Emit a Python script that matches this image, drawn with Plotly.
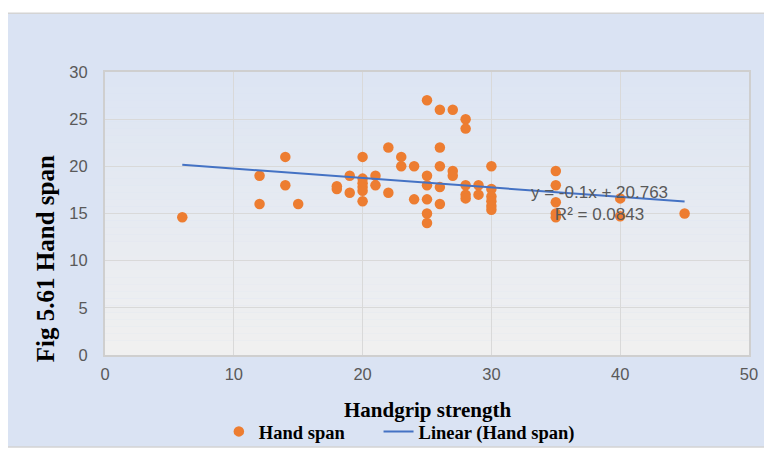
"""Hand span vs handgrip strength scatter with linear trendline."""

import numpy as np
import plotly.graph_objects as go

# handgrip strength (x) and hand span (y)
grip = [
    6, 12, 12, 14, 14, 15, 18, 18, 19, 19,
    20, 20, 20, 20, 20, 20, 21, 21, 22, 22,
    23, 23, 24, 24, 25, 25, 25, 25, 25, 25,
    26, 26, 26, 26, 26, 27, 27, 27, 28, 28,
    28, 28, 28, 29, 29, 30, 30, 30, 30, 30,
    30, 35, 35, 35, 35, 35, 40, 40, 45,
]
span = [
    14.6, 19.0, 16.0, 21.0, 18.0, 16.0, 17.9, 17.6, 19.0, 17.2,
    21.0, 18.7, 18.2, 17.8, 17.4, 16.3, 19.0, 18.0, 22.0, 17.2,
    21.0, 20.0, 20.0, 16.5, 27.0, 19.0, 18.0, 16.5, 15.0, 14.0,
    26.0, 22.0, 20.0, 17.8, 16.0, 26.0, 19.5, 19.0, 25.0, 24.0,
    18.0, 17.0, 16.6, 18.0, 17.0, 20.0, 17.6, 16.8, 16.3, 15.8,
    15.4, 19.5, 18.0, 16.2, 15.0, 14.6, 16.6, 14.7, 15.0,
]

# trendline as printed on the chart
trend_slope = -0.1
trend_intercept = 20.763
trend_r2 = 0.0843

x_ticks = [0, 10, 20, 30, 40, 50]
y_ticks = [0, 5, 10, 15, 20, 25, 30]

ORANGE = "#ED7D31"
BLUE = "#4472C4"
GRID = "#D9D9D9"
TICK_GRAY = "#595959"
SERIF = "Liberation Serif, Times New Roman, serif"
SANS = "Liberation Sans, Arial, sans-serif"
LEGEND_FONT = dict(family=SERIF, size=18.5, color="black", weight="bold")

fig = go.Figure()

fig.add_trace(go.Scatter(
    x=grip, y=span, mode="markers", name="Hand span", legend="legend",
    marker=dict(color=ORANGE, size=10.5, line=dict(width=0)),
))

tx = np.array([min(grip), max(grip)], dtype=float)
fig.add_trace(go.Scatter(
    x=tx, y=trend_slope * tx + trend_intercept, mode="lines",
    name="Linear (Hand span)", legend="legend2",
    line=dict(color=BLUE, width=2),
))

# chart area background + border
shapes = [dict(
    type="rect", xref="paper", yref="paper", layer="below",
    x0=-0.155, x1=1.06, y0=-0.325, y1=1.208,
    fillcolor="#DAE3F3", line=dict(color="#D4D4D4", width=1.5),
)]

# plot area vertical gradient (light blue top -> light gray bottom)
top = np.array([221, 229, 243])
bot = np.array([240, 240, 240])
n_bands = 40
for i in range(n_bands):
    t = i / (n_bands - 1)
    c = (top * (1 - t) + bot * t).round().astype(int)
    shapes.append(dict(
        type="rect", xref="paper", yref="paper", layer="below",
        x0=0, x1=1, y0=1 - (i + 1) / n_bands, y1=1 - i / n_bands,
        fillcolor=f"rgb({c[0]},{c[1]},{c[2]})", line=dict(width=0),
    ))

# page has an 8px body margin, so the figure is drawn 8px smaller
fig.update_layout(
    width=764, height=442,
    margin=dict(l=97, r=23, t=64, b=95),
    paper_bgcolor="white",
    plot_bgcolor="rgba(0,0,0,0)",
    shapes=shapes,
    showlegend=True,
    legend=dict(
        orientation="h", xref="container", yref="container",
        x=0.276, xanchor="left", y=0.041, yanchor="middle",
        bgcolor="rgba(0,0,0,0)", font=LEGEND_FONT,
    ),
    legend2=dict(
        orientation="h", xref="container", yref="container",
        x=0.485, xanchor="left", y=0.041, yanchor="middle",
        bgcolor="rgba(0,0,0,0)", font=LEGEND_FONT,
    ),
    xaxis=dict(
        range=[0, 50], tickvals=x_ticks, showgrid=True, gridcolor=GRID,
        gridwidth=1, zeroline=False, showline=True, linecolor="#CFCFCF",
        linewidth=2, mirror=True, ticks="", ticklabelstandoff=3,
        tickfont=dict(family=SANS, size=16.5, color=TICK_GRAY),
    ),
    yaxis=dict(
        range=[0, 30], tickvals=y_ticks, showgrid=True, gridcolor=GRID,
        gridwidth=1, zeroline=False, showline=True, linecolor="#CFCFCF",
        linewidth=2, mirror=True, ticks="", ticklabelstandoff=12,
        tickfont=dict(family=SANS, size=16.5, color=TICK_GRAY),
    ),
)

# axis titles placed as annotations to match the original offsets
fig.add_annotation(
    x=0.5, y=-0.194, xref="paper", yref="paper", showarrow=False,
    text="Handgrip strength", xanchor="center", yanchor="middle",
    font=dict(family=SERIF, size=21, color="black", weight="bold"),
)
fig.add_annotation(
    x=-0.093, y=0.339, xref="paper", yref="paper", showarrow=False,
    text="Fig 5.61 Hand span", textangle=-90,
    xanchor="center", yanchor="middle",
    font=dict(family=SERIF, size=25, color="black", weight="bold"),
)

fig.add_annotation(
    x=38.4, y=16.1, xref="x", yref="y", showarrow=False, align="center",
    text=f"y = {trend_slope:g}x + {trend_intercept:g}<br>R² = {trend_r2:g}",
    font=dict(family=SANS, size=17, color=TICK_GRAY),
)

fig.write_html("out.html")
